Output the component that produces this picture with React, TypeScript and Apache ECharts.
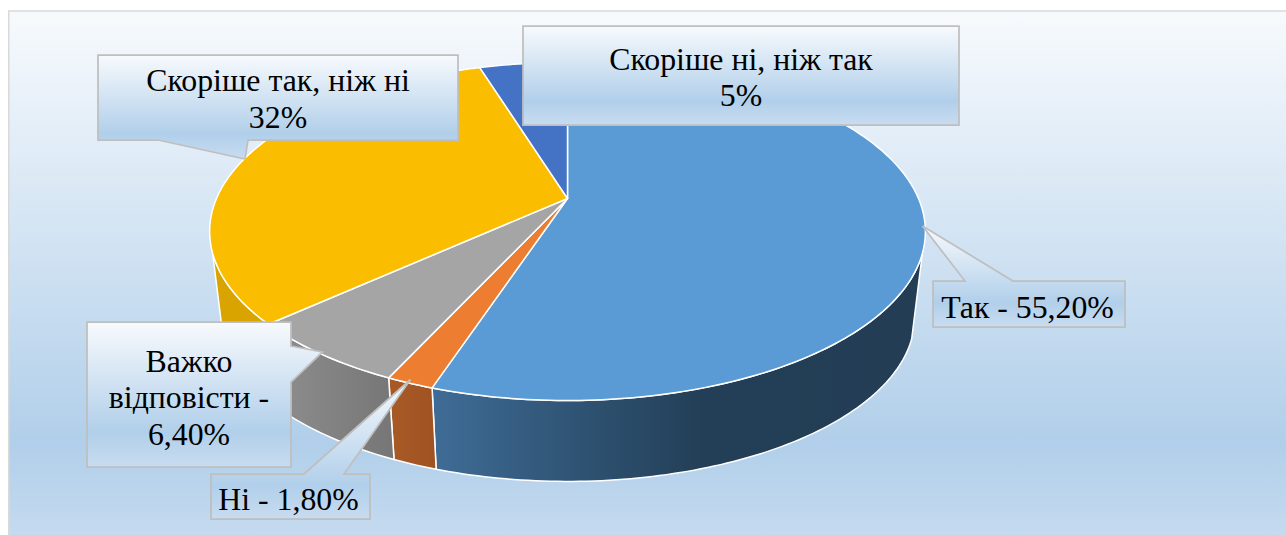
import React, { useEffect, useRef } from "react";
import * as echarts from "echarts";

const categories = ["Так", "Ні", "Важко відповісти", "Скоріше так, ніж ні", "Скоріше ні, ніж так"];
const values = [55.2, 1.8, 6.4, 32, 4.8];
const labelTexts = ["Так - 55,20%", "Ні - 1,80%", "Важко\nвідповісти -\n6,40%", "Скоріше так, ніж ні\n32%", "Скоріше ні, ніж так\n5%"];

const topColors = ["#5B9BD5", "#ED7D31", "#A5A5A5", "#FBBD00", "#4472C4"];
const FONT = "31.8px 'Liberation Serif', serif";

// Projection of the pie disc (perspective view)
const APEX_X = 567.5, APEX_Y = 198.5, SCALE_X = 351, SCALE_Y = 162.6, K = 0.195;
const DEPTH = 87, BOTTOM_SCALE = 0.97, SILHOUETTE_V = 0.317;

const project = (deg: number, bottom: boolean): number[] => {
  const t = (deg * Math.PI) / 180;
  const u = Math.sin(t), v = -Math.cos(t), w = 1 - K * v;
  const s = bottom ? BOTTOM_SCALE : 1;
  return [APEX_X + (s * SCALE_X * u) / w, APEX_Y + (bottom ? DEPTH : 0) + (s * SCALE_Y * v) / w];
};
const arc = (a: number, b: number, bottom: boolean): number[][] => {
  const n = Math.max(2, Math.ceil(Math.abs(b - a)));
  const pts: number[][] = [];
  for (let i = 0; i <= n; i++) pts.push(project(a + ((b - a) * i) / n, bottom));
  return pts;
};

const stops = (list: [number, string][]) => list.map(([offset, color]) => ({ offset, color }));
const vGrad = (list: [number, string][]) => new echarts.graphic.LinearGradient(0, 0, 0, 1, stops(list));
const hGrad = (list: [number, string][]) => new echarts.graphic.LinearGradient(0, 0, 1, 0, stops(list));

const wallFills = [
  hGrad([[0, "#3F6C96"], [0.3, "#2F5373"], [0.55, "#233F57"], [1, "#223D54"]]),
  hGrad([[0, "#A85A26"], [1, "#A05222"]]),
  hGrad([[0, "#8F8F8F"], [1, "#767676"]]),
  "#DAA400",
  "#2F5597",
];
const sheen: [number, string][] = [[0, "#F7FAFD"], [0.76, "#B1CFEA"], [1, "#C8DCF0"]];

// Call-out outlines, in the order of the categories
const boxes = [
  { x: 933, y: 281, w: 192, h: 46, tip: [922.5, 226], w1: 965, w2: 1013, side: "top", tx: 1027.5, ty: 307 },
  { x: 211, y: 474, w: 159, h: 45, tip: [410.5, 379.5], w1: 304, w2: 344, side: "top", tx: 288.5, ty: 499 },
  { x: 87, y: 322, w: 204, h: 145, tip: [322.5, 352], w1: 346, w2: 382, side: "right", tx: 189, ty: 397.5 },
  { x: 98, y: 55, w: 360, h: 85, tip: [245, 159], w1: 158, w2: 248, side: "bottom", tx: 278, ty: 99 },
  { x: 523, y: 26, w: 436, h: 99, tip: null, w1: 0, w2: 0, side: "", tx: 741, ty: 77.3 },
];

const outline = (b: any): number[][] => {
  const { x, y, w, h, tip, w1, w2, side } = b;
  const r = x + w, d = y + h;
  if (side === "top") return [[x, y], [w1, y], tip, [w2, y], [r, y], [r, d], [x, d]];
  if (side === "right") return [[x, y], [r, y], [r, w1], tip, [r, w2], [r, d], [x, d]];
  if (side === "bottom") return [[x, y], [r, y], [r, d], [w2, d], tip, [w1, d], [x, d]];
  return [[x, y], [r, y], [r, d], [x, d]];
};

const total = values.reduce((s, v) => s + v, 0);
const startAngles = values.map((_, i) => (values.slice(0, i).reduce((s, v) => s + v, 0) / total) * 360);

const renderSlice = (params: any, api: any) => {
  const i = params.dataIndex;
  const a = startAngles[i];
  const b = a + (api.value(0) / total) * 360;
  const limitR = (Math.acos(-SILHOUETTE_V) * 180) / Math.PI; // right silhouette
  const limitL = 360 - limitR; // left silhouette
  const wa = Math.max(a, limitR), wb = Math.min(b, limitL);
  const children: any[] = [];
  if (wb > wa) {
    children.push({
      type: "polygon",
      shape: { points: [...arc(wa, wb, false), ...arc(wb, wa, true)] },
      style: { fill: wallFills[i], stroke: "#fff", lineWidth: 1.5, lineJoin: "round" },
    });
  }
  children.push({
    type: "polygon",
    shape: { points: [[APEX_X, APEX_Y], ...arc(a, b, false)] },
    style: { fill: topColors[i], stroke: "#fff", lineWidth: 1.5, lineJoin: "round" },
  });
  return { type: "group", children };
};

const renderLabel = (params: any) => {
  const i = params.dataIndex;
  const b = boxes[i];
  return {
    type: "group",
    children: [
      {
        type: "polygon",
        shape: { points: outline(b) },
        style: { fill: vGrad(sheen), stroke: "#BFBFBF", lineWidth: 1.75, lineJoin: "miter" },
      },
      {
        type: "text",
        style: {
          text: labelTexts[i],
          x: b.tx,
          y: b.ty,
          align: "center",
          verticalAlign: "middle",
          font: FONT,
          lineHeight: 36.5,
          fill: "#000",
        },
      },
    ],
  };
};

export default function App() {
  const ref = useRef<HTMLDivElement>(null);
  useEffect(() => {
    document.body.style.margin = "0";
    document.body.style.background = "#fff";
    const chart = echarts.init(ref.current!, undefined, { renderer: "svg" });
    chart.setOption({
      animation: false,
      textStyle: { fontFamily: "Liberation Serif" },
      graphic: {
        elements: [
          {
            type: "rect",
            z: -10,
            silent: true,
            shape: { x: 8.75, y: 11, width: 1300, height: 540 },
            style: { fill: vGrad([[0, "#F7FAFD"], [0.8, "#B1CFEA"], [1, "#C8DCF0"]]), stroke: "#D9D9D9", lineWidth: 1.5 },
          },
        ],
      },
      series: [
        {
          type: "custom",
          name: "Pie",
          coordinateSystem: "none",
          z: 2,
          silent: true,
          renderItem: renderSlice,
          data: categories.map((name, i) => ({ name, value: [values[i]] })),
        },
        {
          type: "custom",
          name: "Labels",
          coordinateSystem: "none",
          z: 5,
          silent: true,
          renderItem: renderLabel,
          data: categories.map((name, i) => ({ name, value: [values[i]] })),
        },
      ],
    });
    return () => chart.dispose();
  }, []);
  return <div ref={ref} style={{ position: "absolute", left: 0, top: 0, width: 1286, height: 535, overflow: "hidden" }} />;
}
